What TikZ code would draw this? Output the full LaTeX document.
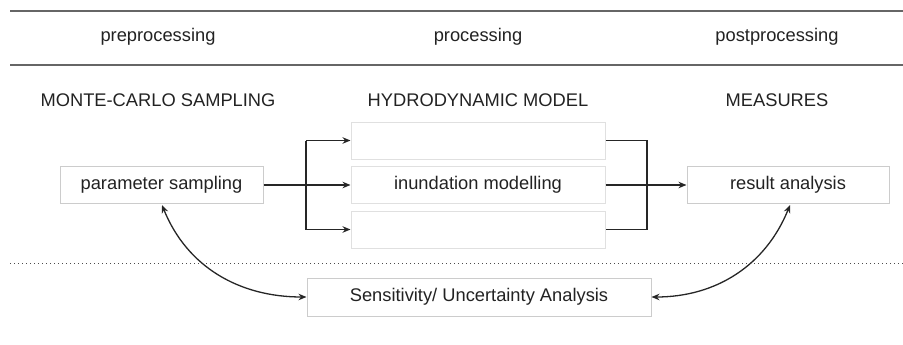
\documentclass[tikz,border=0pt]{standalone}
\usepackage{fontspec}
\setmainfont{Liberation Sans}
\usetikzlibrary{arrows.meta}
\definecolor{txt}{HTML}{222222}
\definecolor{rule}{HTML}{666666}
\definecolor{boxc}{HTML}{CCCCCC}
\definecolor{boxl}{HTML}{E0E0E0}
\begin{document}
\begin{tikzpicture}[x=1pt,y=-1pt,
  every node/.style={font=\fontsize{18.3}{22}\selectfont, text=txt},
  lbl/.style={inner sep=0pt},
  stepbox/.style={draw=boxc, line width=1pt, minimum height=37pt, inner sep=0pt},
  lightbox/.style={draw=boxl, line width=1pt, minimum height=37pt, minimum width=254pt, inner sep=0pt},
  conn/.style={line width=1.5pt, draw=black!85, -{Stealth[length=8pt,width=6.5pt]}},
  plain/.style={line width=1.5pt, draw=black!85},
  dconn/.style={line width=1.3pt, draw=black!85, {Stealth[length=8pt,width=6.5pt]}-{Stealth[length=8pt,width=6.5pt]}}
]
\useasboundingbox (0,0) rectangle (903,345);
\coordinate (r1a) at (10,11); \coordinate (r1b) at (903,11);
\coordinate (r2a) at (10,65); \coordinate (r2b) at (903,65);
\draw[rule, line width=2pt] (r1a) -- (r1b);
\draw[rule, line width=2pt] (r2a) -- (r2b);
\coordinate (d1) at (10,263); \coordinate (d2) at (903,263);
\draw[black!70, line width=1pt, dash pattern=on 1pt off 3pt] (d1) -- (d2);

\node[lbl] (pre) at (158,37) {preprocessing};
\node[lbl] (pro) at (478,37) {processing};
\node[lbl] (post) at (777,37) {postprocessing};
\node[lbl] (mc) at (158,100) {MONTE-CARLO SAMPLING};
\node[lbl] (hm) at (478,100) {HYDRODYNAMIC MODEL};
\node[lbl] (me) at (777,100) {MEASURES};

\node[stepbox, minimum width=203pt] (ps) at (161.5,185) {parameter sampling};
\node[lightbox] (m1) at (478,140.5) {};
\node[lightbox] (m2) at (478,185) {inundation modelling};
\node[lightbox] (m3) at (478,229.5) {};
\node[stepbox, minimum width=202pt] (ra) at (788,185) {result analysis};
\node[stepbox, minimum width=344pt, minimum height=38pt] (sa) at (479,297) {Sensitivity/ Uncertainty Analysis};

\coordinate (jl) at (306,185);
\coordinate (jlt) at (306,140.5);
\coordinate (jlb) at (306,229.5);
\coordinate (jr) at (647,185);
\coordinate (jrt) at (647,140.5);
\coordinate (jrb) at (647,229.5);

\draw[conn] (ps.east) -- (m2.west);
\draw[plain] (jlt) -- (jlb);
\draw[conn] (jlt) -- (m1.west);
\draw[conn] (jlb) -- (m3.west);
\draw[plain] (m1.east) -- (jrt) -- (jrb) -- (m3.east);
\draw[conn] (m2.east) -- (ra.west);

\coordinate (pst) at (162,205);
\coordinate (rat) at (790,205);
\draw[dconn] (pst) to[out=-68, in=180] (sa.west);
\draw[dconn] (rat) to[out=-112, in=0] (sa.east);
\end{tikzpicture}
\end{document}
